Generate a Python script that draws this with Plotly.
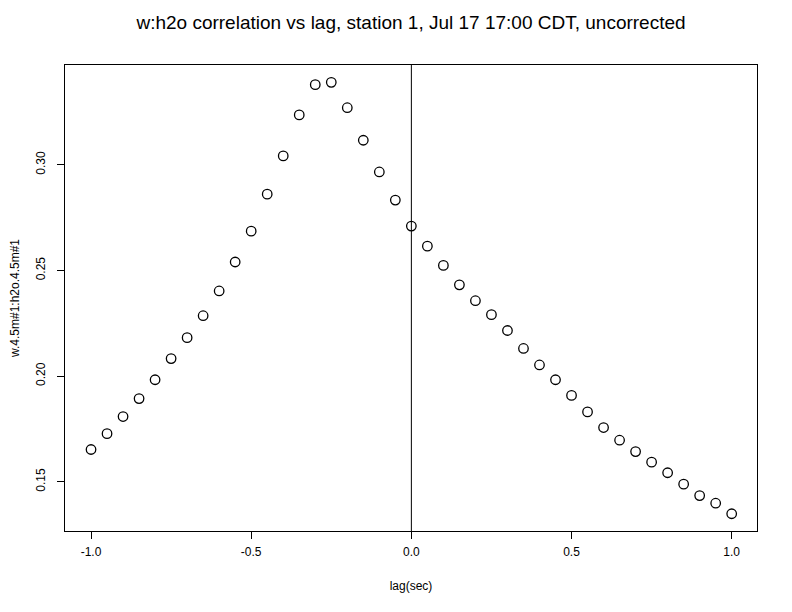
import plotly.graph_objects as go

lags = [-1.00, -0.95, -0.90, -0.85, -0.80, -0.75, -0.70, -0.65, -0.60, -0.55,
        -0.50, -0.45, -0.40, -0.35, -0.30, -0.25, -0.20, -0.15, -0.10, -0.05,
        0.00, 0.05, 0.10, 0.15, 0.20, 0.25, 0.30, 0.35, 0.40, 0.45,
        0.50, 0.55, 0.60, 0.65, 0.70, 0.75, 0.80, 0.85, 0.90, 0.95, 1.00]
corr = [0.1653, 0.1728, 0.1809, 0.1894, 0.1983, 0.2083, 0.2182, 0.2286, 0.2403, 0.2540,
        0.2686, 0.2861, 0.3042, 0.3236, 0.3379, 0.3390, 0.3270, 0.3116, 0.2966, 0.2833,
        0.2710, 0.2615, 0.2524, 0.2432, 0.2357, 0.2291, 0.2216, 0.2131, 0.2053, 0.1983,
        0.1909, 0.1831, 0.1757, 0.1697, 0.1643, 0.1593, 0.1543, 0.1489, 0.1435, 0.1399, 0.1349]

x_tickvals = [-1.0, -0.5, 0.0, 0.5, 1.0]
x_ticktext = ["-1.0", "-0.5", "0.0", "0.5", "1.0"]
y_tickvals = [0.15, 0.20, 0.25, 0.30]
y_ticktext = ["0.15", "0.20", "0.25", "0.30"]

title = "w:h2o correlation vs lag, station 1, Jul 17 17:00 CDT, uncorrected"
xlabel = "lag(sec)"
ylabel = "w.4.5m#1:h2o.4.5m#1"

font = "Liberation Sans, Arial, Helvetica, sans-serif"

fig = go.Figure()
fig.add_trace(go.Scatter(
    x=lags, y=corr, mode="markers",
    marker=dict(symbol="circle-open", size=9.5, color="black", line=dict(width=1.3, color="black")),
    showlegend=False, hoverinfo="skip"))

fig.add_shape(type="line", xref="x", yref="y domain", x0=0, x1=0, y0=0, y1=1,
              line=dict(color="black", width=1))

fig.update_layout(
    width=792, height=612,
    margin=dict(l=57, r=43, t=57, b=89, autoexpand=False),
    paper_bgcolor="white", plot_bgcolor="white",
    font=dict(family=font, size=12, color="black"),
    title=dict(text=title, x=0.5, xref="paper", xanchor="center", y=1 - 14 / 612, yanchor="middle",
               font=dict(family=font, size=19, color="black")),
    xaxis=dict(range=[-1.08125, 1.079], tickvals=x_tickvals, ticktext=x_ticktext,
               ticks="outside", ticklen=7, tickwidth=1, tickcolor="black",
               showline=True, linecolor="black", linewidth=1, mirror=True,
               showgrid=False, zeroline=False, ticklabelstandoff=3,
               title=dict(text=xlabel, standoff=23, font=dict(size=12)),
               tickfont=dict(size=12)),
    yaxis=dict(range=[0.12675, 0.3472], tickvals=y_tickvals, ticktext=y_ticktext,
               ticks="outside", ticklen=7, tickwidth=1, tickcolor="black",
               showline=True, linecolor="black", linewidth=1, mirror=True,
               showgrid=False, zeroline=False, tickangle=-90, ticklabelstandoff=7,
               title=dict(text=ylabel, standoff=12, font=dict(size=12)),
               tickfont=dict(size=12)),
)

fig.write_html("out.html")
